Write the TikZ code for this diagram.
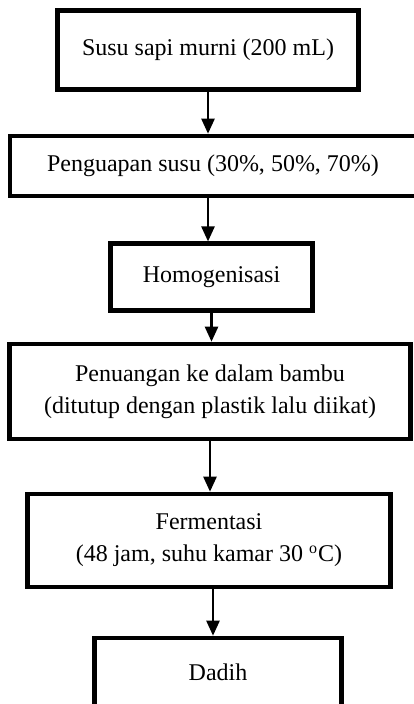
\documentclass[tikz,border=0pt]{standalone}
\usepackage{fontspec}
\setmainfont{Liberation Serif}
\usetikzlibrary{arrows.meta}

\begin{document}
\begin{tikzpicture}[x=0.5pt,y=-0.5pt,
        box/.style={draw, line width=2.3pt, align=center, inner sep=0pt,
            font=\fontsize{12}{16}\selectfont},
        arr/.style={line width=1.2pt, -{Triangle[length=7.5pt,width=6.5pt]}}]
        % Fix the page size
        \useasboundingbox (0,0) rectangle (413,704);
        % Define the process steps
        \node[box, minimum width=150.5pt, minimum height=39.75pt] (susu) at (208,50) {Susu sapi murni (200 mL)};
        \node[box, minimum width=203pt, minimum height=30pt] (uap) at (213,166) {Penguapan susu (30\%, 50\%, 70\%)};
        \node[box, minimum width=101pt, minimum height=33.25pt] (homo) at (211.5,277) {Homogenisasi};
        \node[box, minimum width=200.75pt, minimum height=47.5pt] (tuang) at (210,391.5) {Penuangan ke dalam bambu\\(ditutup dengan plastik lalu diikat)};
        \node[box, minimum width=181.5pt, minimum height=46.5pt] (fermen) at (209,540.5) {Fermentasi\\(48 jam, suhu kamar 30 \textsuperscript{o}C)};
        \node[box, minimum width=123.75pt, minimum height=34pt] (dadih) at (218,672) {Dadih};
        % Add arrows
        \draw[arr] (susu.south) -- (susu.south |- uap.north);
        \draw[arr] (uap.south -| susu.south) -- (homo.north -| susu.south);
        \draw[arr] (homo.south) -- (homo.south |- tuang.north);
        \draw[arr] (tuang.south) -- (tuang.south |- fermen.north);
        \draw[arr] ([xshift=2pt]fermen.south) -- ([xshift=2pt]fermen.south |- dadih.north);
\end{tikzpicture}
\end{document}
